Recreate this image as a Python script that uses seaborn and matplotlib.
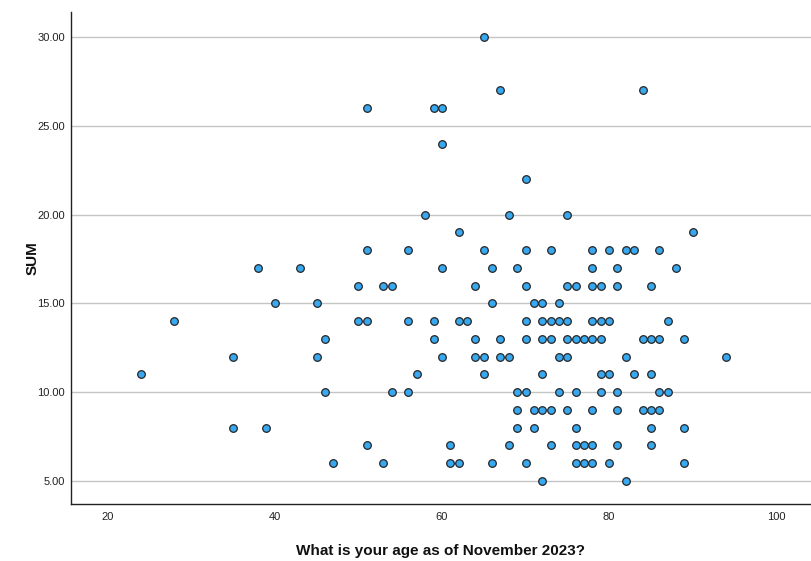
import matplotlib
matplotlib.use("Agg")
import matplotlib.pyplot as plt
import pandas as pd
import seaborn as sns

# ages and SUM scores (SUM 30 down to 5)
age = [
    65,                                                        # 30
    67, 84,                                                    # 27
    51, 59, 60,                                                # 26
    60,                                                        # 24
    70,                                                        # 22
    58, 68, 75,                                                # 20
    62, 90,                                                    # 19
    51, 56, 65, 70, 73, 78, 80, 82, 83, 86,                    # 18
    38, 43, 60, 66, 69, 78, 81, 88,                            # 17
    50, 53, 54, 64, 70, 75, 76, 78, 79, 81, 85,                # 16
    40, 45, 66, 71, 72, 74,                                    # 15
    28, 50, 51, 56, 59, 62, 63, 70, 72, 73, 74, 75, 78, 79, 80, 87,  # 14
    46, 59, 64, 67, 70, 72, 73, 75, 76, 77, 78, 79, 84, 85, 86, 89,  # 13
    35, 45, 60, 64, 65, 67, 68, 74, 75, 82, 94,                # 12
    24, 57, 65, 72, 79, 80, 83, 85,                            # 11
    46, 54, 56, 69, 70, 74, 76, 79, 81, 86, 87,                # 10
    69, 71, 72, 73, 75, 78, 81, 84, 85, 86,                    # 9
    35, 39, 69, 71, 76, 85, 89,                                # 8
    51, 61, 68, 73, 76, 77, 78, 81, 85,                        # 7
    47, 53, 61, 62, 66, 70, 76, 77, 78, 80, 89,                # 6
    72, 82,                                                    # 5
]
score = (
    [30] * 1 + [27] * 2 + [26] * 3 + [24] * 1 + [22] * 1 + [20] * 3 + [19] * 2
    + [18] * 10 + [17] * 8 + [16] * 11 + [15] * 6 + [14] * 16 + [13] * 16
    + [12] * 11 + [11] * 8 + [10] * 11 + [9] * 10 + [8] * 7 + [7] * 9
    + [6] * 11 + [5] * 2
)

x_ticks = [20, 40, 60, 80, 100]
y_ticks = [5, 10, 15, 20, 25, 30]

df = pd.DataFrame({"age": age, "SUM": score})

sns.set_style("white")
plt.rcParams["font.family"] = ["Liberation Sans", "DejaVu Sans"]

fig = plt.figure(figsize=(8.12, 5.61), dpi=100)
ax = fig.add_axes([71 / 812, 1 - 504 / 561, 1 - 71 / 812, (504 - 12) / 561])

sns.scatterplot(data=df, x="age", y="SUM", ax=ax, s=30,
                color="#38a8f0", edgecolor="#262626", linewidth=0.9, zorder=3)

ax.set_xlim(15.63, 104.27)
ax.set_ylim(3.7, 31.41)
ax.set_xticks(x_ticks)
ax.set_yticks(y_ticks)
ax.set_yticklabels([f"{v:.2f}" for v in y_ticks])
ax.yaxis.grid(True, color="#c4c4c4", linewidth=1.0, zorder=0)
ax.xaxis.grid(False)
ax.tick_params(axis="both", length=0, labelsize=8, colors="#222222")
ax.tick_params(axis="y", pad=4.5)
ax.tick_params(axis="x", pad=6)

for side in ["top", "right"]:
    ax.spines[side].set_visible(False)
for side in ["left", "bottom"]:
    ax.spines[side].set_color("#222222")
    ax.spines[side].set_linewidth(1.0)

ax.set_xlabel("")
ax.set_ylabel("")
fig.text(441 / 812, 1 - 551 / 561, "What is your age as of November 2023?",
         ha="center", va="center", fontsize=11, fontweight="bold", color="#111111")
fig.text(33 / 812, 1 - 258 / 561, "SUM", rotation=90,
         ha="center", va="center", fontsize=11, fontweight="bold", color="#111111")

fig.savefig("out.png", dpi=100)
